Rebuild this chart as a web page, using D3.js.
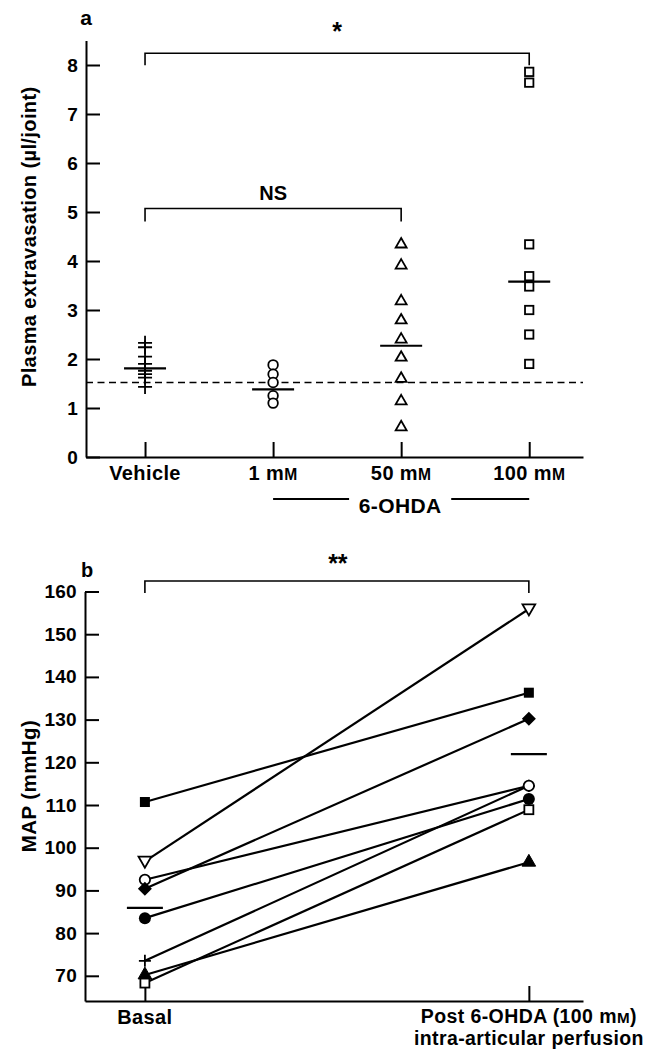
<!DOCTYPE html>
<html>
<head>
<meta charset="utf-8">
<script src="https://cdn.jsdelivr.net/npm/d3@7"></script>
<style>
  html, body { margin: 0; padding: 0; background: #fff; }
  svg { display: block; }
  text { font-family: "Liberation Sans", Arial, sans-serif; font-weight: bold; fill: #000; }
</style>
</head>
<body>
<svg id="chart" width="660" height="1049"></svg>
<script>
// ---------- Panel a data ----------
const catsA = ["Vehicle", "1 mM", "50 mM", "100 mM"];
const ticksA = [0, 1, 2, 3, 4, 5, 6, 7, 8];
const vehicle = [2.33, 2.24, 2.05, 1.90, 1.76, 1.69, 1.62, 1.43];
const mm1 = [1.88, 1.69, 1.52, 1.25, 1.10];
const mm50 = [4.36, 3.93, 3.20, 2.81, 2.42, 2.05, 1.62, 1.16, 0.63];
const mm100 = [7.86, 7.64, 4.34, 3.69, 3.48, 3.00, 2.50, 1.90];
const meansA = [1.81, 1.38, 2.27, 3.58];
const baselineA = 1.52;
const bracketStar = [0, 3];   // Vehicle vs 100 mM
const bracketNS = [0, 2];     // Vehicle vs 50 mM

// ---------- Panel b data ----------
const catsB = ["Basal", "Post 6-OHDA (100 mM)", "intra-articular perfusion"];
const ticksB = [70, 80, 90, 100, 110, 120, 130, 140, 150, 160];
const subjects = ["filledSquare", "openTriDown", "openCircle", "filledDiamond", "filledCircle", "plus", "filledTri", "openSquare"];
const basal = [110.7, 96.8, 92.5, 90.4, 83.5, 73.5, 70.2, 68.3];
const post  = [136.3, 155.9, 114.5, 130.2, 111.4, 114.5, 96.6, 108.9];
const meansB = [85.9, 121.9];

const svg = d3.select("#chart");
const LS = "0.4px";

// ================= PANEL A =================
const xA = d3.scaleLinear().domain([-0.461, 3.42]).range([86, 583]);
const yA = d3.scaleLinear().domain([0, 8.5]).range([457, 40.5]);
const gA = svg.append("g");

const axA_y = gA.append("g").attr("transform", `translate(${xA.range()[0]},0)`)
  .call(d3.axisLeft(yA).tickValues(ticksA).tickSizeInner(-14).tickSizeOuter(0).tickPadding(8).tickFormat(d3.format("d")));
const axA_x = gA.append("g").attr("transform", `translate(0,${yA(0)})`)
  .call(d3.axisBottom(xA).tickValues([0, 1, 2, 3]).tickSizeInner(-15).tickSizeOuter(0).tickFormat(""));

function styleAxis(ax) {
  ax.select(".domain").attr("stroke", "#000").attr("stroke-width", 2);
  ax.selectAll(".tick line").attr("stroke", "#000").attr("stroke-width", 2);
  ax.selectAll(".tick text").attr("font-size", 19).attr("font-family", "Liberation Sans, Arial, sans-serif")
    .attr("font-weight", "bold").attr("letter-spacing", "0.3px");
}
styleAxis(axA_y); styleAxis(axA_x);

function addMMLabel(sel, label, size) {
  const parts = label.split(" mM");
  sel.text(parts[0]);
  if (parts.length > 1) {
    sel.append("tspan").text(" m");
    sel.append("tspan").attr("font-size", size * 0.78).text("M");
    if (parts[1]) sel.append("tspan").text(parts[1]);
  }
}
catsA.forEach((c, i) => {
  const t = gA.append("text").attr("x", xA(i)).attr("y", 480).attr("text-anchor", "middle")
    .attr("font-size", 20).attr("letter-spacing", LS);
  addMMLabel(t, c, 20);
});

// 6-OHDA group label
gA.append("line").attr("x1", xA(1)).attr("x2", xA(1) + 76).attr("y1", 499).attr("y2", 499).attr("stroke", "#000").attr("stroke-width", 1.8);
gA.append("line").attr("x1", xA(3) - 78).attr("x2", xA(3)).attr("y1", 499).attr("y2", 499).attr("stroke", "#000").attr("stroke-width", 1.8);
gA.append("text").attr("x", (xA(1) + xA(3)) / 2 - 1).attr("y", 513).attr("text-anchor", "middle")
  .attr("font-size", 21).attr("letter-spacing", LS).text("6-OHDA");

// y title
gA.append("text").attr("transform", `translate(36,${(yA(0) + yA(8.5)) / 2 - 12}) rotate(-90)`)
  .attr("text-anchor", "middle").attr("font-size", 20).attr("letter-spacing", LS).text("Plasma extravasation (µl/joint)");

svg.append("text").attr("x", 86).attr("y", 25).attr("text-anchor", "middle").attr("font-size", 21).text("a");

// baseline dashed
gA.append("line").attr("x1", xA.range()[0]).attr("x2", xA.range()[1]).attr("y1", yA(baselineA)).attr("y2", yA(baselineA))
  .attr("stroke", "#000").attr("stroke-width", 1.6).attr("stroke-dasharray", "7,4.5");

function bracket(g, x1, x2, y, drop) {
  g.append("path").attr("d", `M${x1},${y + drop}V${y}H${x2}V${y + drop}`)
    .attr("fill", "none").attr("stroke", "#000").attr("stroke-width", 1.6);
}
bracket(gA, xA(bracketStar[0]), xA(bracketStar[1]), yA(8.24), 12);
gA.append("text").attr("x", (xA(bracketStar[0]) + xA(bracketStar[1])) / 2).attr("y", 40).attr("text-anchor", "middle")
  .attr("font-family", "DejaVu Sans").attr("font-size", 25).text("*");
bracket(gA, xA(bracketNS[0]), xA(bracketNS[1]), yA(5.07), 13);
gA.append("text").attr("x", xA(1)).attr("y", 200).attr("text-anchor", "middle").attr("font-size", 20).text("NS");

const stroke = 1.8;
vehicle.forEach(v => {
  gA.append("path").attr("d", `M${xA(0) - 7},${yA(v)}h14M${xA(0)},${yA(v) - 7}v14`)
    .attr("stroke", "#000").attr("stroke-width", stroke).attr("fill", "none");
});
mm1.forEach(v => {
  gA.append("circle").attr("cx", xA(1)).attr("cy", yA(v)).attr("r", 4.8)
    .attr("fill", "#fff").attr("stroke", "#000").attr("stroke-width", stroke);
});
const triUp = d3.symbol().type(d3.symbolTriangle).size(52);
mm50.forEach(v => {
  gA.append("path").attr("d", triUp()).attr("transform", `translate(${xA(2)},${yA(v) + 1})`)
    .attr("fill", "#fff").attr("stroke", "#000").attr("stroke-width", stroke);
});
mm100.forEach(v => {
  gA.append("rect").attr("x", xA(3) - 4.2).attr("y", yA(v) - 4.2).attr("width", 8.4).attr("height", 8.4)
    .attr("fill", "#fff").attr("stroke", "#000").attr("stroke-width", stroke);
});
meansA.forEach((m, i) => {
  gA.append("line").attr("x1", xA(i) - 21).attr("x2", xA(i) + 21).attr("y1", yA(m)).attr("y2", yA(m))
    .attr("stroke", "#000").attr("stroke-width", 2.2);
});

// ================= PANEL B =================
const xB = d3.scaleLinear().domain([-0.156, 1.141]).range([85, 583]);
const yB = d3.scaleLinear().domain([64.1, 160]).range([1001, 591.5]);
const gB = svg.append("g");

const axB_y = gB.append("g").attr("transform", `translate(${xB.range()[0]},0)`)
  .call(d3.axisLeft(yB).tickValues(ticksB).tickSizeInner(-14).tickSizeOuter(0).tickPadding(8));
const axB_x = gB.append("g").attr("transform", `translate(0,${yB.range()[0]})`)
  .call(d3.axisBottom(xB).tickValues([0, 1]).tickSizeInner(-15).tickSizeOuter(0).tickFormat(""));
styleAxis(axB_y); styleAxis(axB_x);

gB.append("text").attr("x", xB(0)).attr("y", 1024).attr("text-anchor", "middle").attr("font-size", 20)
  .attr("letter-spacing", LS).text(catsB[0]);
const postLab = gB.append("text").attr("x", xB(1)).attr("y", 1023).attr("text-anchor", "middle")
  .attr("font-size", 19.5).attr("letter-spacing", LS);
addMMLabel(postLab, catsB[1].replace(")", ""), 19.5);
postLab.append("tspan").text(")");
gB.append("text").attr("x", xB(1)).attr("y", 1045).attr("text-anchor", "middle").attr("font-size", 19.5)
  .attr("letter-spacing", LS).text(catsB[2]);

gB.append("text").attr("transform", `translate(36,786) rotate(-90)`)
  .attr("text-anchor", "middle").attr("font-size", 20.5).attr("letter-spacing", LS).text("MAP (mmHg)");
svg.append("text").attr("x", 87).attr("y", 577).attr("text-anchor", "middle").attr("font-size", 20).text("b");

bracket(gB, xB(0), xB(1), 581, 12);
gB.append("text").attr("x", (xB(0) + xB(1)) / 2 + 1).attr("y", 572).attr("text-anchor", "middle")
  .attr("font-family", "DejaVu Sans").attr("font-size", 25).text("**");

subjects.forEach((s, i) => {
  gB.append("line").attr("x1", xB(0)).attr("y1", yB(basal[i])).attr("x2", xB(1)).attr("y2", yB(post[i]))
    .attr("stroke", "#000").attr("stroke-width", 2.2);
});

function marker(g, type, x, y) {
  const black = "#000", white = "#fff";
  switch (type) {
    case "filledSquare":
      g.append("rect").attr("x", x - 5).attr("y", y - 5).attr("width", 10).attr("height", 10).attr("fill", black);
      break;
    case "openSquare":
      g.append("rect").attr("x", x - 4.5).attr("y", y - 4.5).attr("width", 9).attr("height", 9)
        .attr("fill", white).attr("stroke", black).attr("stroke-width", 1.8);
      break;
    case "openTriDown":
      g.append("path").attr("d", d3.symbol().type(d3.symbolTriangle).size(70)())
        .attr("transform", `translate(${x},${y - 1}) rotate(180)`)
        .attr("fill", white).attr("stroke", black).attr("stroke-width", 1.8);
      break;
    case "filledTri":
      g.append("path").attr("d", d3.symbol().type(d3.symbolTriangle).size(80)())
        .attr("transform", `translate(${x},${y})`).attr("fill", black).attr("stroke", black).attr("stroke-width", 1);
      break;
    case "openCircle":
      g.append("circle").attr("cx", x).attr("cy", y).attr("r", 5.2)
        .attr("fill", white).attr("stroke", black).attr("stroke-width", 1.8);
      break;
    case "filledCircle":
      g.append("circle").attr("cx", x).attr("cy", y).attr("r", 6).attr("fill", black);
      break;
    case "filledDiamond":
      g.append("path").attr("d", `M${x},${y - 7}L${x + 7},${y}L${x},${y + 7}L${x - 7},${y}Z`).attr("fill", black);
      break;
    case "plus":
      g.append("path").attr("d", `M${x - 6},${y}h12M${x},${y - 6}v12`).attr("stroke", black).attr("stroke-width", 1.8);
      break;
  }
}
const order = subjects.map((s, i) => i).sort((a, b) => (subjects[a] === "plus" ? -1 : 0) - (subjects[b] === "plus" ? -1 : 0));
order.forEach(i => {
  marker(gB, subjects[i], xB(0), yB(basal[i]));
  marker(gB, subjects[i], xB(1), yB(post[i]));
});

meansB.forEach((m, i) => {
  gB.append("line").attr("x1", xB(i) - 18).attr("x2", xB(i) + 18).attr("y1", yB(m)).attr("y2", yB(m))
    .attr("stroke", "#000").attr("stroke-width", 2.2);
});
</script>
</body>
</html>
